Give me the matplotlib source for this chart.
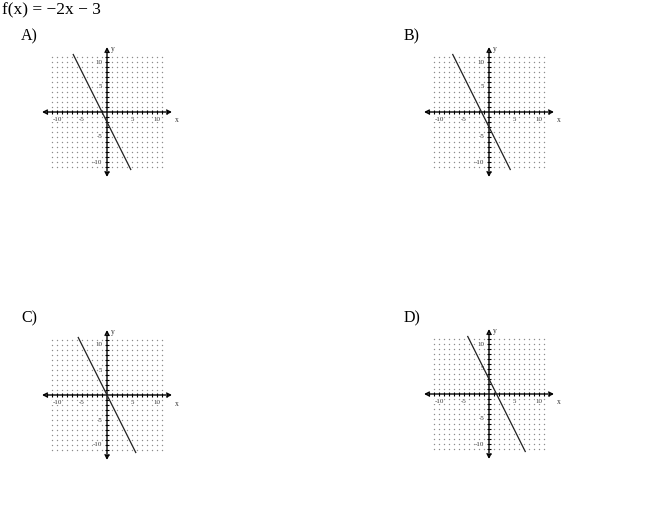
import numpy as np
import matplotlib
matplotlib.use('Agg')
import matplotlib.pyplot as plt

W, H = 650, 505

title = 'f(x) = \u22122x \u2212 3'
options = ['A)', 'B)', 'C)', 'D)']
slopes = [-2, -2, -2, -2]
intercepts = [-2, -3, 0, 3]
tick_vals = [-10, -5, 5, 10]
tick_text = ['-10', '-5', '5', '10']

# pixel positions of each graph origin and option label
origins = [(107, 112), (489, 112), (107, 395), (489, 394)]
label_pos = [(21, 28), (404, 28), (21, 310), (404, 310)]

SCALE = 5.0   # px per unit
LIM = 14

fig = plt.figure(figsize=(W / 100, H / 100), dpi=100)
serif = ['Liberation Serif', 'DejaVu Serif']

fig.text(2 / W, 1 - 2 / H, title, fontsize=12.5, family=serif, va='top', ha='left')


def draw_graph(ax, m, b):
    ax.set_xlim(-LIM, LIM)
    ax.set_ylim(-LIM, LIM)
    ax.axis('off')

    # dotted grid
    g = np.arange(-11, 12)
    gx, gy = np.meshgrid(g, g)
    keep = (gx != 0) & (gy != 0)
    ax.scatter(gx[keep], gy[keep], s=1.0, color='#8c8c8c', linewidths=0)

    # axes with arrows
    arr = dict(arrowstyle='<->', color='black', lw=1.0, mutation_scale=7,
               shrinkA=0, shrinkB=0)
    ax.annotate('', xy=(13, 0), xytext=(-13, 0), arrowprops=arr)
    ax.annotate('', xy=(0, 13), xytext=(0, -13), arrowprops=arr)

    # tick marks at each unit
    t = np.arange(-12, 13)
    t = t[t != 0]
    ax.vlines(t, -0.45, 0.45, color='black', lw=0.8)
    ax.hlines(t, -0.45, 0.45, color='black', lw=0.8)

    box = dict(facecolor='white', edgecolor='none', pad=0.3)
    for v, s in zip(tick_vals, tick_text):
        ax.text(v, -1.0, s, fontsize=5, ha='center', va='top',
                family=serif, color='#333333', bbox=box, zorder=5)
        ax.text(-0.9, v, s, fontsize=5, ha='right', va='center',
                family=serif, color='#333333', bbox=box, zorder=5)
    ax.text(13.6, -0.9, 'x', fontsize=5.5, ha='left', va='top',
            family=serif, color='#333333')
    ax.text(0.7, 12.6, 'y', fontsize=5.5, ha='left', va='center',
            family=serif, color='#333333')

    # the line, clipped to y in [-11.5, 11.5]
    xs = (np.array([11.5, -11.5]) - b) / m
    ax.plot(xs, m * xs + b, color='#222222', lw=0.9, zorder=6)


for (ox, oy), (lx, ly), lab, m, b in zip(origins, label_pos, options, slopes, intercepts):
    left = (ox - LIM * SCALE) / W
    bottom = 1 - (oy + LIM * SCALE) / H
    size_w = 2 * LIM * SCALE / W
    size_h = 2 * LIM * SCALE / H
    ax = fig.add_axes([left, bottom, size_w, size_h])
    draw_graph(ax, m, b)
    fig.text(lx / W, 1 - ly / H, lab, fontsize=11.5, family=serif, va='top', ha='left')

fig.savefig('out.png', dpi=100)
